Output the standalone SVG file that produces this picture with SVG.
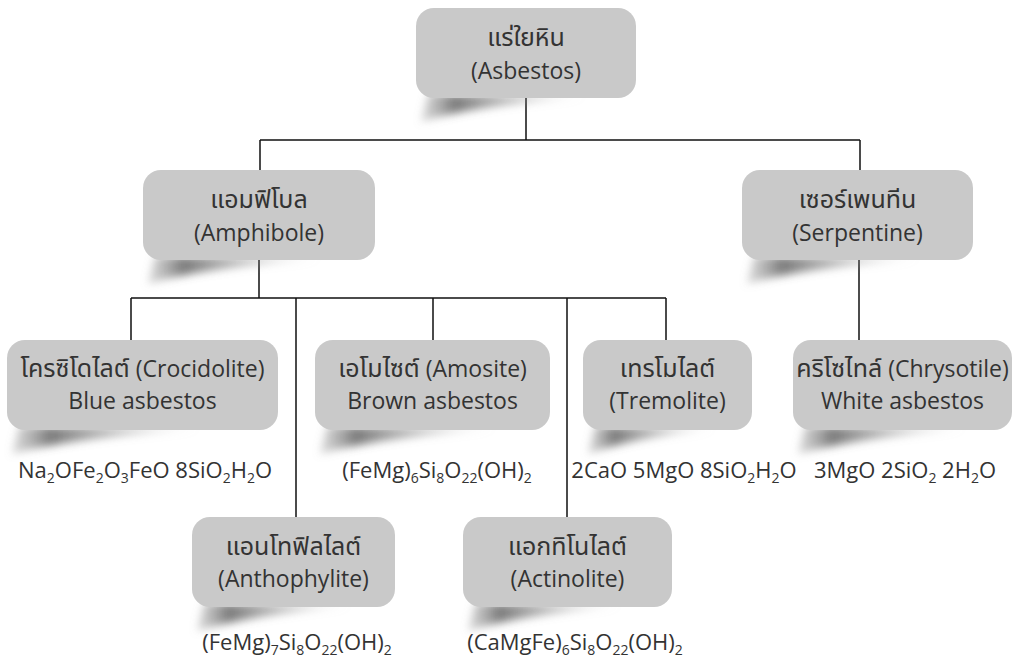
<svg xmlns="http://www.w3.org/2000/svg" width="1023" height="661" viewBox="0 0 1023 661">
<style>
.box{fill:#c9c9c9}
.t{font-family:"Open Sans","Noto Sans Thai","Noto Sans Thai Looped","Noto Sans","Loma","Garuda","Tlwg Typo",sans-serif;font-size:23px;fill:#333;text-anchor:middle}
.th{font-size:25px}
.f{font-family:"Open Sans","Noto Sans",sans-serif;font-size:22px;fill:#333;text-anchor:middle}
.s{font-size:14px}
.ln{stroke:#111;stroke-width:1.5;fill:none}
.sh{fill:url(#shg);filter:url(#blur)}
</style>
<defs>
<linearGradient id="shg" x1="0" y1="0" x2="1" y2="0">
<stop offset="0" stop-color="#999" stop-opacity="0.35"/>
<stop offset="0.2" stop-color="#5a5a5a" stop-opacity="0.8"/>
<stop offset="0.55" stop-color="#888" stop-opacity="0.5"/>
<stop offset="1" stop-color="#bbb" stop-opacity="0"/>
</linearGradient>
<filter id="blur" x="-10%" y="-50%" width="120%" height="200%"><feGaussianBlur stdDeviation="4"/></filter>
</defs>
<rect width="1023" height="661" fill="#fff"/>
<g id="connectors">
<path class="ln" d="M526 98V140M260 140H860M260 140V170M860 140V170"/>
<path class="ln" d="M259 260V298M131 298H666M131 298V340M296 298V517M433 298V340M567 298V517M666 298V340"/>
<path class="ln" d="M859 260V340"/>
</g>
<g id="asbestos">
<path class="sh" d="M428 94 L421 122 Q470 106 590 97 Z"/>
<rect class="box" x="416" y="8" width="220" height="90" rx="18"/>
<text class="t" x="526" y="46"><tspan class="th">แร่ใยหิน</tspan></text>
<text class="t" x="526" y="79">(Asbestos)</text>
</g>
<g id="amphibole">
<path class="sh" d="M155 256 L148 284 Q200 268 325 259 Z"/>
<rect class="box" x="143" y="170" width="232" height="90" rx="18"/>
<text class="t" x="259" y="208"><tspan class="th">แอมฟิโบล</tspan></text>
<text class="t" x="259" y="241">(Amphibole)</text>
</g>
<g id="serpentine">
<path class="sh" d="M754 256 L747 284 Q800 268 925 259 Z"/>
<rect class="box" x="742" y="170" width="231" height="90" rx="18"/>
<text class="t" x="857.5" y="208"><tspan class="th">เซอร์เพนทีน</tspan></text>
<text class="t" x="857.5" y="241">(Serpentine)</text>
</g>
<g id="crocidolite">
<path class="sh" d="M19 426 L12 454 Q70 438 205 429 Z"/>
<rect class="box" x="7" y="340" width="271" height="90" rx="18"/>
<text class="t" x="142.5" y="377"><tspan class="th">โครซิโดไลต์</tspan> (Crocidolite)</text>
<text class="t" x="142.5" y="409">Blue asbestos</text>
<text class="f" x="145" y="478">Na<tspan class="s" dy="5">2</tspan><tspan dy="-5">OFe</tspan><tspan class="s" dy="5">2</tspan><tspan dy="-5">O</tspan><tspan class="s" dy="5">3</tspan><tspan dy="-5">FeO 8SiO</tspan><tspan class="s" dy="5">2</tspan><tspan dy="-5">H</tspan><tspan class="s" dy="5">2</tspan><tspan dy="-5">O</tspan></text>
</g>
<g id="amosite">
<path class="sh" d="M327 426 L320 454 Q375 438 500 429 Z"/>
<rect class="box" x="315" y="340" width="235" height="90" rx="18"/>
<text class="t" x="432.5" y="377"><tspan class="th">เอโมไซต์</tspan> (Amosite)</text>
<text class="t" x="432.5" y="409">Brown asbestos</text>
<text class="f" x="437" y="478">(FeMg)<tspan class="s" dy="5">6</tspan><tspan dy="-5">Si</tspan><tspan class="s" dy="5">8</tspan><tspan dy="-5">O</tspan><tspan class="s" dy="5">22</tspan><tspan dy="-5">(OH)</tspan><tspan class="s" dy="5">2</tspan></text>
</g>
<g id="tremolite">
<path class="sh" d="M595 426 L588 454 Q630 438 718 429 Z"/>
<rect class="box" x="583" y="340" width="169" height="90" rx="18"/>
<text class="t" x="667.5" y="377"><tspan class="th">เทรโมไลต์</tspan></text>
<text class="t" x="667.5" y="409">(Tremolite)</text>
<text class="f" x="684" y="478">2CaO 5MgO 8SiO<tspan class="s" dy="5">2</tspan><tspan dy="-5">H</tspan><tspan class="s" dy="5">2</tspan><tspan dy="-5">O</tspan></text>
</g>
<g id="chrysotile">
<path class="sh" d="M805 426 L798 454 Q855 438 970 429 Z"/>
<rect class="box" x="793" y="340" width="219" height="90" rx="18"/>
<text class="t" x="902.5" y="377"><tspan class="th">คริโซไทล์</tspan> (Chrysotile)</text>
<text class="t" x="902.5" y="409">White asbestos</text>
<text class="f" x="905" y="478">3MgO 2SiO<tspan class="s" dy="5">2</tspan><tspan dy="-5"> 2H</tspan><tspan class="s" dy="5">2</tspan><tspan dy="-5">O</tspan></text>
</g>
<g id="anthophylite">
<path class="sh" d="M204 603 L197 631 Q250 615 355 606 Z"/>
<rect class="box" x="192" y="517" width="203" height="90" rx="18"/>
<text class="t" x="293.5" y="555"><tspan class="th">แอนโทฟิลไลต์</tspan></text>
<text class="t" x="293.5" y="587">(Anthophylite)</text>
<text class="f" x="297" y="650">(FeMg)<tspan class="s" dy="5">7</tspan><tspan dy="-5">Si</tspan><tspan class="s" dy="5">8</tspan><tspan dy="-5">O</tspan><tspan class="s" dy="5">22</tspan><tspan dy="-5">(OH)</tspan><tspan class="s" dy="5">2</tspan></text>
</g>
<g id="actinolite">
<path class="sh" d="M475 603 L468 631 Q520 615 625 606 Z"/>
<rect class="box" x="463" y="517" width="209" height="90" rx="18"/>
<text class="t" x="567.5" y="555"><tspan class="th">แอกทิโนไลต์</tspan></text>
<text class="t" x="567.5" y="587">(Actinolite)</text>
<text class="f" x="575" y="650">(CaMgFe)<tspan class="s" dy="5">6</tspan><tspan dy="-5">Si</tspan><tspan class="s" dy="5">8</tspan><tspan dy="-5">O</tspan><tspan class="s" dy="5">22</tspan><tspan dy="-5">(OH)</tspan><tspan class="s" dy="5">2</tspan></text>
</g>
</svg>
